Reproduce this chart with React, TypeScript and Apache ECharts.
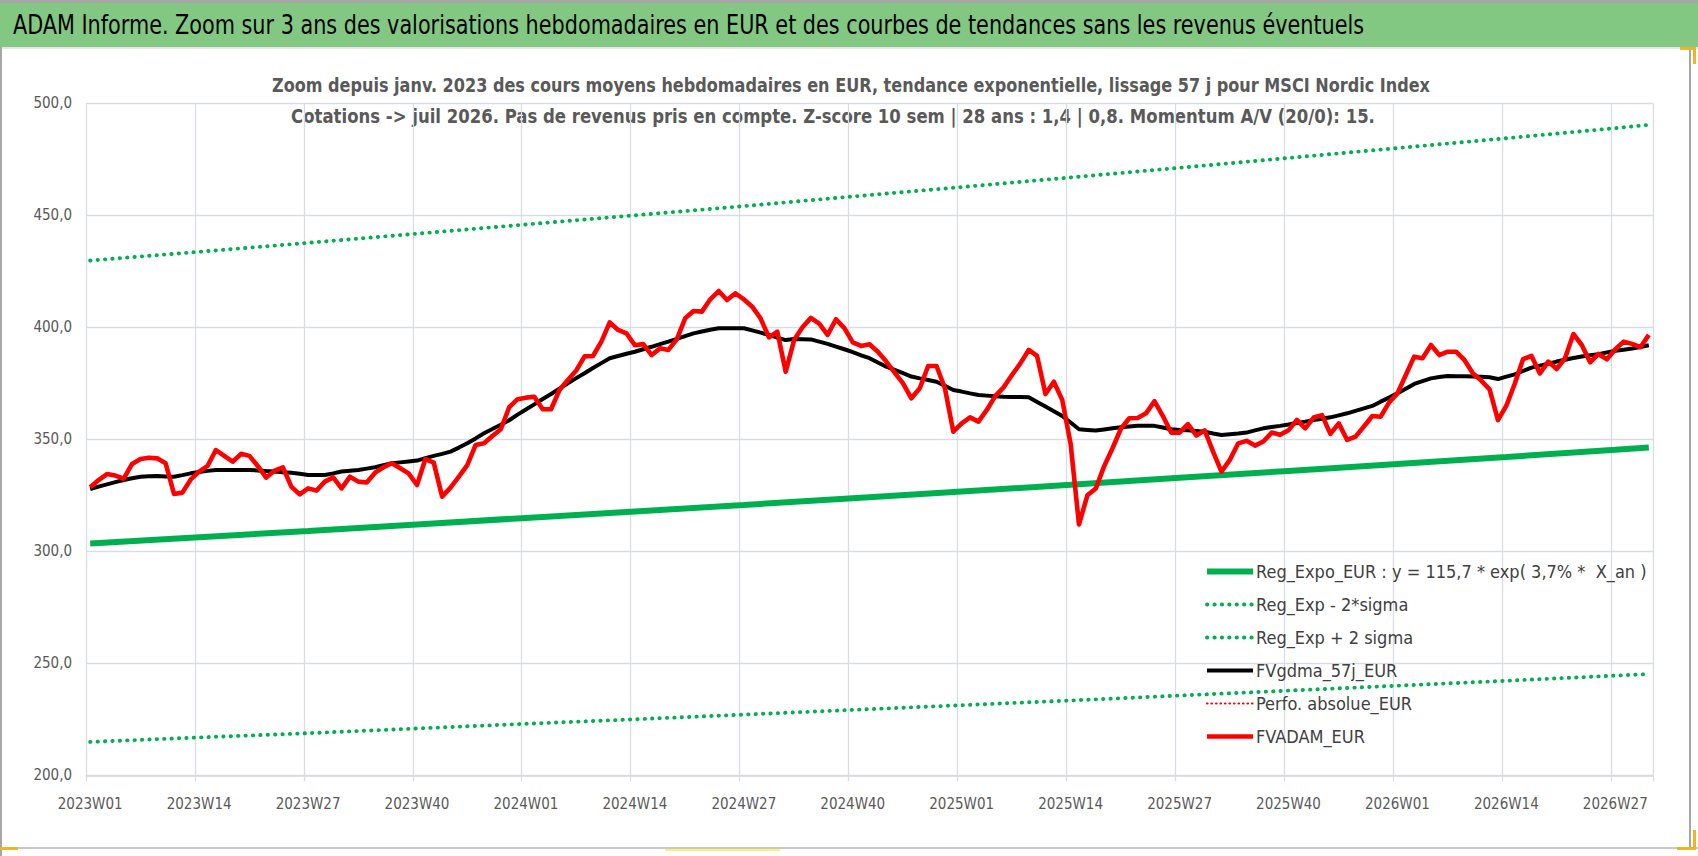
import React, { useEffect, useRef } from "react";
import * as echarts from "echarts";

// ---------- categories ----------
const years = [2023, 2024, 2025, 2026];
const weeksPerYear = [52, 52, 52, 31];
const categories: string[] = [];
years.forEach((y, k) => {
  for (let w = 1; w <= weeksPerYear[k]; w++) categories.push(`${y}W${String(w).padStart(2, "0")}`);
});

// ---------- series values ----------
const fvadamEur = [
  328.6, 331.8, 334.5, 333.8, 332.4, 339.0, 341.2, 341.8, 341.5, 339.3,
  325.6, 326.2, 332.1, 335.6, 338.1, 345.2, 342.6, 340.0, 343.5, 342.6,
  338.1, 332.9, 336.0, 337.5, 328.9, 325.4, 328.1, 327.1, 331.1, 333.0,
  328.1, 333.3, 331.1, 330.7, 335.1, 337.5, 339.3, 337.1, 334.8, 329.6,
  341.2, 339.6, 324.4, 328.4, 333.3, 338.5, 347.5, 348.2, 351.5, 354.5,
  364.3, 367.9, 368.6, 369.0, 363.4, 363.4, 372.0, 376.5, 380.7, 387.0,
  387.2, 393.6, 402.2, 398.8, 397.3, 392.0, 392.5, 387.6, 390.6, 389.9,
  394.6, 404.0, 407.3, 407.0, 412.5, 416.2, 412.2, 415.2, 412.5, 409.2,
  404.0, 395.5, 398.0, 380.2, 394.3, 400.0, 404.2, 401.6, 396.6, 403.6,
  399.6, 393.3, 391.7, 392.4, 389.1, 384.7, 379.8, 375.0, 368.3, 372.8,
  382.7, 382.7, 372.8, 353.4, 357.1, 359.8, 357.9, 363.1, 369.3, 373.2,
  378.7, 383.9, 389.9, 387.2, 370.2, 375.7, 367.6, 348.0, 312.0, 325.0,
  328.0, 338.0, 346.0, 354.7, 359.4, 359.5, 361.6, 367.0, 360.5, 353.0,
  353.0, 356.8, 351.7, 354.0, 344.5, 335.6, 340.8, 348.2, 349.3, 347.2,
  349.0, 353.0, 352.0, 354.0, 358.7, 354.9, 359.7, 360.8, 352.4, 357.1,
  349.7, 351.2, 355.7, 360.4, 360.1, 366.4, 370.5, 378.7, 386.9, 386.2,
  392.1, 387.6, 389.1, 389.1, 385.4, 379.5, 376.2, 372.3, 358.6, 365.0,
  374.8, 385.8, 387.2, 379.4, 384.7, 381.4, 386.2, 397.0, 392.1, 384.4,
  388.1, 385.7, 390.2, 393.6, 392.6, 391.1, 396.6,
];

const fvgdma57j = [
  327.8, 328.9, 329.9, 330.9, 331.8, 332.6, 333.3, 333.5, 333.6, 333.4,
  333.3, 334.0, 334.8, 335.4, 335.9, 336.3, 336.3, 336.3, 336.3, 336.3,
  336.1, 335.8, 335.6, 335.3, 335.1, 334.6, 334.1, 334.1, 334.1, 334.8,
  335.6, 336.0, 336.3, 336.9, 337.5, 338.4, 339.3, 339.7, 340.1, 340.5,
  341.6, 342.6, 343.5, 344.5, 346.3, 348.2, 350.4, 352.7, 354.6, 356.5,
  358.5, 361.0, 363.3, 365.6, 368.0, 370.2, 372.6, 375.0, 377.3, 379.5,
  381.8, 384.0, 386.2, 387.2, 388.2, 389.1, 390.2, 391.3, 392.5, 393.6,
  394.8, 396.1, 397.3, 398.1, 398.9, 399.6, 399.6, 399.6, 399.6, 398.6,
  397.6, 396.6, 395.4, 394.3, 394.8, 394.7, 394.6, 393.6, 392.6, 391.4,
  390.2, 388.9, 387.5, 386.2, 384.3, 382.4, 381.0, 379.5, 378.0, 377.2,
  376.5, 375.7, 373.9, 372.0, 371.3, 370.5, 369.8, 369.5, 369.2, 369.0,
  368.9, 368.9, 368.8, 366.7, 364.6, 362.5, 360.4, 357.5, 354.5, 354.2,
  353.9, 354.4, 354.9, 355.4, 355.7, 356.0, 356.0, 356.0, 355.3, 354.5,
  354.2, 354.0, 353.7, 353.4, 352.6, 351.9, 352.3, 352.6, 353.0, 354.0,
  354.9, 355.5, 356.0, 356.6, 357.3, 357.9, 358.6, 359.2, 359.8, 360.7,
  361.6, 362.7, 363.8, 364.9, 366.8, 368.6, 370.5, 372.6, 374.7, 376.0,
  377.2, 377.8, 378.3, 378.2, 378.1, 378.0, 377.9, 377.7, 376.9, 378.0,
  379.0, 380.5, 382.0, 382.9, 383.8, 384.7, 385.5, 386.3, 387.0, 387.5,
  388.0, 388.8, 389.5, 390.0, 390.5, 391.2, 392.0,
];

// trend lines: values read at the labelled weeks and at the last week
const trendWeeks = [
  "2023W01", "2023W14", "2023W27", "2023W40", "2024W01", "2024W14", "2024W27", "2024W40",
  "2025W01", "2025W14", "2025W27", "2025W40", "2026W01", "2026W14", "2026W27", "2026W31",
];
const regExpoEur = [303.5, 306.3, 309.1, 312.0, 314.9, 317.8, 320.7, 323.7, 326.7, 329.7, 332.8, 335.9, 339.0, 342.1, 345.3, 346.3];
const regExpMinus2Sigma = [214.9, 216.9, 218.8, 220.9, 223.0, 225.0, 227.1, 229.2, 231.3, 233.4, 235.6, 237.8, 240.0, 242.2, 244.5, 245.2];
const regExpPlus2Sigma = [429.8, 433.7, 437.7, 441.8, 445.9, 450.0, 454.1, 458.4, 462.6, 466.9, 471.2, 475.6, 480.0, 484.4, 488.9, 490.4];
const perfoAbsolueEur: number[] = [];

const yMin = 200;
const yMax = 500;
const yStep = 50;

const FONT = "'DejaVu Sans Condensed', 'Liberation Sans Narrow', 'Open Sans', sans-serif";
const GREEN = "#00B050";
const GRID = "#D9DDE3";

const titleText =
  "ADAM Informe. Zoom sur 3 ans des valorisations hebdomadaires en EUR et des courbes de tendances sans les revenus éventuels";
const subtitle1 =
  "Zoom depuis janv. 2023 des cours moyens hebdomadaires en EUR, tendance exponentielle, lissage 57 j pour MSCI Nordic Index";
const subtitle2 =
  "Cotations -> juil 2026. Pas de revenus pris en compte. Z-score 10 sem | 28 ans : 1,4 | 0,8. Momentum A/V (20/0): 15.";

const legendNames = [
  "Reg_Expo_EUR : y = 115,7 * exp( 3,7% *  X_an )",
  "Reg_Exp - 2*sigma",
  "Reg_Exp + 2 sigma",
  "FVgdma_57j_EUR",
  "Perfo. absolue_EUR",
  "FVADAM_EUR",
];

const trendData = (vals: number[]) => trendWeeks.map((w, i) => [w, vals[i]]);

export default function App() {
  const ref = useRef<HTMLDivElement>(null);
  useEffect(() => {
    if (!ref.current) return;
    const chart = echarts.init(ref.current, undefined, { renderer: "svg" });
    const dotted = { type: [0.3, 7.1] as number[], width: 3.9, cap: "round" as const, color: GREEN };
    chart.setOption({
      animation: false,
      backgroundColor: "#ffffff",
      textStyle: { fontFamily: FONT },
      graphic: [
        { type: "rect", shape: { x: 0, y: 0, width: 1698, height: 3 }, style: { fill: "#A6A6A6" }, silent: true },
        { type: "rect", shape: { x: 0, y: 3, width: 1698, height: 44 }, style: { fill: "#82C882" }, silent: true },
        { type: "rect", shape: { x: 0, y: 47, width: 1698, height: 2 }, style: { fill: "#E6E6E6" }, silent: true },
        { type: "rect", shape: { x: 0, y: 47, width: 2, height: 809 }, style: { fill: "#A6A6A6" }, silent: true },
        { type: "rect", shape: { x: 1689, y: 47, width: 2, height: 803 }, style: { fill: "#A6A6A6" }, silent: true },
        { type: "rect", shape: { x: 0, y: 847, width: 1698, height: 2 }, style: { fill: "#C8C8C8" }, silent: true },
        { type: "rect", shape: { x: 1680, y: 47, width: 16, height: 3 }, style: { fill: "#F0B429" }, silent: true },
        { type: "rect", shape: { x: 1693, y: 47, width: 3, height: 17 }, style: { fill: "#F0B429" }, silent: true },
        { type: "rect", shape: { x: 1693, y: 830, width: 3, height: 20 }, style: { fill: "#F0B429" }, silent: true },
        { type: "rect", shape: { x: 1677, y: 847, width: 19, height: 3 }, style: { fill: "#F0B429" }, silent: true },
        { type: "rect", shape: { x: 0, y: 847, width: 18, height: 3 }, style: { fill: "#F0B429" }, silent: true },
        { type: "rect", shape: { x: 665, y: 849, width: 115, height: 2 }, style: { fill: "#FFF176" }, silent: true },
        {
          type: "text", x: 13, y: 25, scaleX: 0.888, silent: true,
          style: { text: titleText, fontFamily: FONT, fontSize: 26, fill: "#000000", verticalAlign: "middle" },
        },
        {
          type: "text", x: 851, y: 85, scaleX: 0.894, silent: true,
          style: { text: subtitle1, fontFamily: FONT, fontSize: 20, fontWeight: "bold", fill: "#595959", align: "center", verticalAlign: "middle" },
        },
        {
          type: "text", x: 833, y: 116, scaleX: 0.918, silent: true,
          style: { text: subtitle2, fontFamily: FONT, fontSize: 20, fontWeight: "bold", fill: "#595959", align: "center", verticalAlign: "middle" },
        },
      ],
      grid: { left: 86, right: 45, top: 103.3, bottom: 80.7, containLabel: false },
      legend: {
        orient: "vertical",
        left: 1204,
        top: 561.5,
        padding: 0,
        itemWidth: 46,
        itemHeight: 12,
        itemGap: 13,
        textStyle: { fontFamily: FONT, fontSize: 18, color: "#404040", lineHeight: 20, padding: [0, 0, 0, -2] },
        lineStyle: { width: "inherit", type: "inherit", cap: "inherit" },
        itemStyle: { opacity: 0 },
        data: legendNames,
      },
      xAxis: {
        type: "category",
        data: categories,
        boundaryGap: true,
        axisLine: { show: true, lineStyle: { color: "#D9D9D9", width: 1.5 } },
        axisTick: { show: true, interval: 12, length: 6, lineStyle: { color: GRID, width: 1.3 } },
        axisLabel: { interval: 12, margin: 21, fontFamily: FONT, fontSize: 15, color: "#595959" },
        splitLine: { show: true, interval: 12, lineStyle: { color: GRID, width: 1.3 } },
      },
      yAxis: {
        type: "value",
        min: yMin,
        max: yMax,
        interval: yStep,
        axisLine: { show: false },
        axisTick: { show: false },
        axisLabel: {
          margin: 14,
          fontFamily: FONT,
          fontSize: 15,
          color: "#595959",
          formatter: (v: number) => v.toFixed(1).replace(".", ","),
        },
        splitLine: { show: true, lineStyle: { color: GRID, width: 1.3 } },
      },
      series: [
        {
          name: legendNames[0],
          type: "line",
          data: trendData(regExpoEur),
          symbol: "none",
          lineStyle: { color: GREEN, width: 6 },
          itemStyle: { color: GREEN },
        },
        {
          name: legendNames[1],
          type: "line",
          data: trendData(regExpMinus2Sigma),
          symbol: "none",
          lineStyle: dotted,
          itemStyle: { color: GREEN },
        },
        {
          name: legendNames[2],
          type: "line",
          data: trendData(regExpPlus2Sigma),
          symbol: "none",
          lineStyle: dotted,
          itemStyle: { color: GREEN },
        },
        {
          name: legendNames[3],
          type: "line",
          data: fvgdma57j,
          symbol: "none",
          lineStyle: { color: "#000000", width: 4 },
          itemStyle: { color: "#000000" },
        },
        {
          name: legendNames[4],
          type: "line",
          data: perfoAbsolueEur,
          symbol: "none",
          lineStyle: { color: "#FF0000", width: 2.2, type: [0.5, 4], cap: "round" },
          itemStyle: { color: "#FF0000" },
        },
        {
          name: legendNames[5],
          type: "line",
          data: fvadamEur,
          symbol: "none",
          lineStyle: { color: "#FF0000", width: 4.6, join: "round" },
          itemStyle: { color: "#FF0000" },
        },
      ],
    });
    return () => chart.dispose();
  }, []);
  return (
    <div
      ref={ref}
      style={{ position: "fixed", left: 0, top: 0, width: 1698, height: 856, background: "#fff" }}
    />
  );
}
